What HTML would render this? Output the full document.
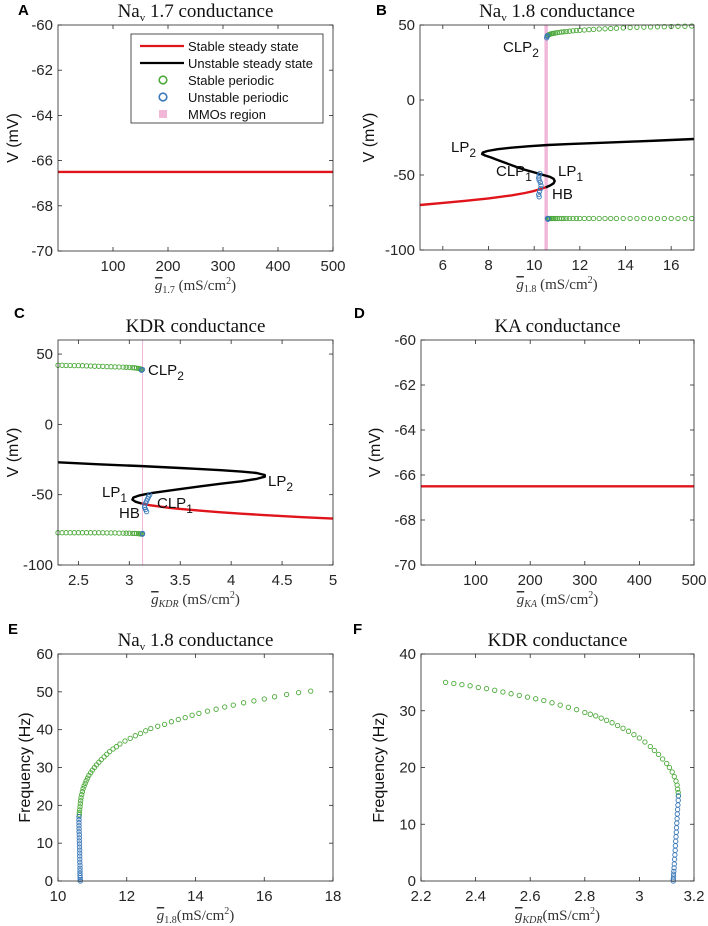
<!DOCTYPE html>
<html><head><meta charset="utf-8"><style>
html,body{margin:0;padding:0;background:#fff}
svg{display:block}
.tk{font-family:"Liberation Sans",sans-serif;font-size:15px;fill:#262626}
.tt{font-family:"Liberation Serif",serif;font-size:19px;fill:#111}
.xl{font-family:"Liberation Serif",serif;font-size:15px;fill:#333}
.yl{font-family:"Liberation Sans",sans-serif;font-size:16px;fill:#111}
.pl{font-family:"Liberation Sans",sans-serif;font-size:15px;font-weight:bold;fill:#000}
.an{font-family:"Liberation Sans",sans-serif;font-size:15px;fill:#111}
.lg{font-family:"Liberation Sans",sans-serif;font-size:13px;fill:#111}
</style></head><body>
<svg id="fig" width="708" height="926" viewBox="0 0 708 926" xmlns="http://www.w3.org/2000/svg"></svg>
<script>
// ---------- data ----------
const aStableG=[0,500]; const aStableV=[-66.5,-66.5];
const dStableG=[0,500]; const dStableV=[-66.5,-66.5];
const bStableG=[5,6,7,8,9,9.6,10,10.3,10.5];
const bStableV=[-70,-68.6,-67.2,-65.6,-63.6,-62,-60.6,-59.3,-58.3];
const bUnstG=[10.5,10.7,10.85,10.9,10.85,10.7,10.4,10,9.6,9.2,8.8,8.4,8.1,7.85,7.72,7.75,7.95,8.4,9,9.8,10.6,11.5,12.5,13.5,14.5,15.5,17];
const bUnstV=[-58.3,-57,-55.5,-54,-52.5,-51.3,-50,-48.3,-46.5,-44.5,-42.3,-40,-38.3,-37,-36,-35,-34,-32.8,-31.8,-30.8,-30,-29.4,-28.8,-28.2,-27.6,-27,-26];
const bGreenG=[10.6,10.63,10.66,10.7,10.75,10.8,10.86,10.93,11,11.1,11.2,11.3,11.42,11.55,11.7,11.85,12,12.2,12.4,12.6,12.85,13.1,13.35,13.6,13.9,14.2,14.5,14.8,15.1,15.4,15.7,16,16.3,16.6,16.9];
const bGreenUpV=[43,43.4,43.7,43.9,44.1,44.3,44.5,44.7,44.9,45.1,45.3,45.5,45.7,45.9,46.1,46.3,46.5,46.7,46.9,47.1,47.3,47.5,47.7,47.9,48.1,48.3,48.5,48.6,48.7,48.8,48.9,49,49.1,49.2,49.3];
const bGreenLoV=[-79,-79,-79,-79,-79,-79,-79,-79,-79,-79,-79,-79,-79,-79,-79,-79,-79,-79,-79,-79,-79,-79,-79,-79,-79,-79,-79,-79,-79,-79,-79,-79,-79,-79,-79];
const bBlueG=[10.55,10.56,10.58,10.6,10.25,10.22,10.2,10.22,10.27,10.3,10.28,10.24,10.2,10.22,10.6,10.58];
const bBlueV=[41.5,42.5,43,-79,-49,-50.5,-52,-53.5,-55,-57,-59,-61,-63,-64.5,-79.5,-79];
const bMmo=[10.45,10.6];

const cStableG=[3.12,3.2,3.3,3.4,3.5,3.7,3.9,4.1,4.3,4.5,4.7,5];
const cStableV=[-56.3,-57.5,-58.5,-59.4,-60.1,-61.4,-62.5,-63.5,-64.4,-65.2,-66,-67];
const cUnstG=[3.12,3.06,3.03,3.04,3.1,3.2,3.35,3.5,3.7,3.9,4.1,4.25,4.33,4.33,4.25,4.1,3.9,3.7,3.5,3.3,3.1,2.9,2.7,2.5,2.3];
const cUnstV=[-56.3,-55,-53.5,-52,-50.5,-49,-47.5,-46,-44,-42.2,-40.5,-38.8,-37.2,-36,-34.6,-33.6,-32.6,-31.8,-31,-30.3,-29.6,-29,-28.4,-27.7,-27];
const cGreenG=[2.3,2.34,2.38,2.42,2.46,2.5,2.54,2.58,2.62,2.66,2.7,2.74,2.78,2.82,2.86,2.9,2.94,2.97,3,3.03,3.05,3.07,3.09,3.1,3.11,3.12];
const cGreenUpV=[42,42,41.9,41.9,41.8,41.8,41.7,41.6,41.5,41.4,41.3,41.2,41.1,41,40.9,40.8,40.7,40.6,40.5,40.3,40.2,40,39.8,39.6,39.4,39.2];
const cGreenLoV=[-77,-77,-77,-77,-77,-77,-77,-77,-77,-77.1,-77.1,-77.1,-77.2,-77.2,-77.2,-77.3,-77.3,-77.4,-77.4,-77.5,-77.5,-77.6,-77.7,-77.8,-77.9,-78];
const cBlueG=[3.12,3.13,3.13,3.13,3.2,3.19,3.18,3.17,3.16,3.15,3.15,3.16,3.17];
const cBlueV=[38.5,39,-78,-77.5,-50,-51.5,-53,-54.5,-56,-57.5,-59,-60.5,-62];
const cMmo=[3.13];

const eGreenG=[17.35,17,16.65,16.3,16,15.7,15.4,15.1,14.85,14.6,14.35,14.1,13.9,13.7,13.5,13.3,13.1,12.9,12.7,12.55,12.4,12.25,12.1,11.95,11.8,11.7,11.6,11.5,11.42,11.34,11.26,11.19,11.12,11.06,11,10.95,10.9,10.86,10.82,10.79,10.76,10.73,10.71,10.69,10.67,10.66,10.65,10.64,10.63,10.62,10.62];
const eGreenF=[50.2,49.8,49.3,48.7,48.1,47.6,47.1,46.5,46,45.4,44.9,44.3,43.8,43.2,42.7,42.1,41.4,40.9,40.3,39.7,39,38.4,37.7,37,36.2,35.5,34.9,34.2,33.5,32.8,32.1,31.4,30.7,30,29.3,28.6,27.9,27.2,26.5,25.8,25.1,24.4,23.6,22.8,22,21.2,20.4,19.6,18.8,18.1,17.5];
const eBlueG=[10.61,10.61,10.61,10.61,10.615,10.615,10.62,10.62,10.62,10.625,10.625,10.63,10.63,10.63,10.635,10.635,10.64,10.64,10.64,10.64,10.64,10.645,10.645,10.65];
const eBlueF=[17,16.2,15.4,14.6,13.8,13,12.2,11.4,10.6,9.8,9,8.2,7.4,6.6,5.8,5,4.2,3.4,2.7,2,1.4,0.9,0.4,0];

const fGreenG=[2.29,2.32,2.35,2.38,2.41,2.44,2.47,2.5,2.53,2.56,2.59,2.62,2.65,2.68,2.71,2.74,2.77,2.8,2.82,2.84,2.86,2.88,2.9,2.92,2.94,2.96,2.98,3,3.02,3.04,3.055,3.07,3.085,3.1,3.11,3.12,3.128,3.134,3.138,3.14,3.142,3.143];
const fGreenF=[35,34.8,34.6,34.4,34.1,33.9,33.6,33.3,33,32.7,32.4,32.1,31.8,31.4,31,30.6,30.2,29.7,29.4,29.1,28.7,28.3,27.9,27.4,26.9,26.4,25.8,25.2,24.5,23.7,23,22.3,21.5,20.7,20,19.2,18.4,17.6,16.9,16.2,15.6,15];
const fBlueG=[3.143,3.142,3.141,3.14,3.139,3.138,3.137,3.136,3.135,3.134,3.133,3.132,3.131,3.13,3.129,3.128,3.127,3.126,3.125,3.125,3.124,3.124];
const fBlueF=[15,14.2,13.4,12.6,11.8,11,10.2,9.4,8.6,7.8,7,6.2,5.4,4.6,3.8,3,2.3,1.7,1.2,0.7,0.3,0];

const vTicksA=[-70,-68,-66,-64,-62,-60];
const gTicksA=[100,200,300,400,500];
const vTicksB=[-100,-50,0,50];
const gTicksB=[6,8,10,12,14,16];
const gTicksC=[2.5,3,3.5,4,4.5,5];
const fTicksE=[0,10,20,30,40,50,60];
const gTicksE=[10,12,14,16,18];
const fTicksF=[0,10,20,30,40];
const gTicksF=[2.2,2.4,2.6,2.8,3,3.2];
const gTicksFLabels=['2.2','2.4','2.6','2.8','3','3.2'];

// ---------- helpers ----------
const NS='http://www.w3.org/2000/svg';
const svg=document.getElementById('fig');
function mk(tag,attrs,parent,text){const e=document.createElementNS(NS,tag);for(const k in attrs)e.setAttribute(k,attrs[k]);if(text!==undefined)e.textContent=text;(parent||svg).appendChild(e);return e;}
const RED='#e0141b',BLK='#000',GRN='#4eaa3c',BLU='#3a78b8',PNK='#f1b6d8';

function panel(p){
  const g=mk('g',{});
  
  
  const sx=v=>p.x0+(v-p.xmin)/(p.xmax-p.xmin)*(p.x1-p.x0);
  const sy=v=>p.y1-(v-p.ymin)/(p.ymax-p.ymin)*(p.y1-p.y0);
  mk('rect',{x:p.x0,y:p.y0,width:p.x1-p.x0,height:p.y1-p.y0,fill:'#fff'},g);
  const plot=mk('g',{},g);
  
  
  const axes=mk('g',{},g);
  
  
  p.yt.forEach((v,i)=>{const y=sy(v);
    mk('line',{x1:p.x0,x2:p.x0+4,y1:y,y2:y,stroke:'#262626','stroke-width':0.8},axes);
    mk('line',{x1:p.x1,x2:p.x1-4,y1:y,y2:y,stroke:'#262626','stroke-width':0.8},axes);
    const t=mk('text',{x:p.x0-5,y:y+5,'text-anchor':'end',class:'tk'},axes,p.ytl?p.ytl[i]:String(v));
    });
  p.xt.forEach((v,i)=>{const x=sx(v);
    mk('line',{x1:x,x2:x,y1:p.y1,y2:p.y1-4,stroke:'#262626','stroke-width':0.8},axes);
    mk('line',{x1:x,x2:x,y1:p.y0,y2:p.y0+4,stroke:'#262626','stroke-width':0.8},axes);
    const t=mk('text',{x:x,y:p.y1+20,'text-anchor':'middle',class:'tk'},axes,p.xtl?p.xtl[i]:String(v));
    });
  mk('rect',{x:p.x0,y:p.y0,width:p.x1-p.x0,height:p.y1-p.y0,fill:'none',stroke:'#262626','stroke-width':0.8},axes);
  const tt=mk('text',{x:(p.x0+p.x1)/2,y:p.y0-8,'text-anchor':'middle',class:'tt'},g);
  
  tt.innerHTML=p.title;
  const yl=mk('text',{x:0,y:0,'text-anchor':'middle',class:'yl',transform:`translate(${p.ylx},${(p.y0+p.y1)/2}) rotate(-90)`},g,p.ylab);
  
  const xl=mk('text',{x:(p.x0+p.x1)/2,y:p.y1+39,'text-anchor':'middle',class:'xl'},g);
  
  xl.innerHTML=`<tspan font-style="italic" text-decoration="overline">g</tspan><tspan font-size="10" dy="3" font-style="${p.subIt?'italic':'normal'}">${p.sub}</tspan><tspan dy="-3">${p.gap?' ':''}(mS/cm</tspan><tspan font-size="10" dy="-6">2</tspan><tspan dy="6">)</tspan>`;
  const pl=mk('text',{x:p.x0-46+p.plx,y:p.ply,class:'pl'},g,p.letter);
  
  return {sx,sy,plot};
}
function line(P,gs,vs,col,name){const d=gs.map((v,i)=>(i?'L':'M')+P.sx(v).toFixed(1)+','+P.sy(vs[i]).toFixed(1)).join('');
  const e=mk('path',{d:d,fill:'none',stroke:col,'stroke-width':2.4,'stroke-linejoin':'round'},P.plot);
  }
function dots(P,gs,vs,col,name){const grp=mk('g',{},P.plot);
  
  gs.forEach((v,i)=>{const c=mk('circle',{cx:P.sx(v).toFixed(1),cy:P.sy(vs[i]).toFixed(1),r:2.2,fill:'none',stroke:col,'stroke-width':0.9},grp);
    });}
function ann(P,x,y,main,sub,name){const t=mk('text',{x:x,y:y,class:'an'},P.plot);
  
  t.innerHTML=main+(sub?`<tspan font-size="12" dy="5">${sub}</tspan>`:'');}

const vlab='V (mV)';
// A
const A=panel({name:'panel-a',letter:'A',plx:6,ply:15,x0:58,x1:333,y0:25,y1:251,xmin:0,xmax:500,ymin:-70,ymax:-60,xt:gTicksA,yt:vTicksA,ylx:18,ylab:vlab,
  title:'Na<tspan font-size="11" dy="4">v</tspan><tspan dy="-4"> 1.7 conductance</tspan>',sub:'1.7',gap:true});
line(A,aStableG,aStableV,RED,'stable-steady-state');
// legend
const lg=mk('g',{});
mk('rect',{x:131,y:34,width:192,height:89,fill:'#fff',stroke:'#262626','stroke-width':0.8},lg);
const items=[['Stable steady state','line',RED],['Unstable steady state','line',BLK],['Stable periodic','circ',GRN],['Unstable periodic','circ',BLU],['MMOs region','sq',PNK]];
items.forEach((it,i)=>{const y=46+i*17;const e=mk('g',{},lg);
  
  if(it[1]=='line')mk('line',{x1:140,x2:184,y1:y,y2:y,stroke:it[2],'stroke-width':2.2},e);
  if(it[1]=='circ')mk('circle',{cx:163,cy:y,r:3.8,fill:'none',stroke:it[2],'stroke-width':1.6},e);
  if(it[1]=='sq')mk('rect',{x:159,y:y-4,width:8,height:8,fill:it[2]},e);
  mk('text',{x:188,y:y+5,class:'lg'},e,it[0]);});
// B
const B=panel({name:'panel-b',letter:'B',plx:2,ply:15,x0:420,x1:694,y0:25,y1:250,xmin:5,xmax:17,ymin:-100,ymax:50,xt:gTicksB,yt:vTicksB,ylx:374,ylab:vlab,
  title:'Na<tspan font-size="11" dy="4">v</tspan><tspan dy="-4"> 1.8 conductance</tspan>',sub:'1.8',gap:true});
{const r=mk('rect',{x:B.sx(bMmo[0]),y:25,width:B.sx(bMmo[1])-B.sx(bMmo[0]),height:225,fill:PNK},B.plot);}
line(B,bStableG,bStableV,RED,'stable-steady-state');
line(B,bUnstG,bUnstV,BLK,'unstable-steady-state');
dots(B,bGreenG,bGreenUpV,GRN,'stable-periodic-max');
dots(B,bGreenG,bGreenLoV,GRN,'stable-periodic-min');
dots(B,bBlueG,bBlueV,BLU,'unstable-periodic');
ann(B,503,52,'CLP','2','label-clp2');ann(B,451,152,'LP','2','label-lp2');ann(B,496,176,'CLP','1','label-clp1');
ann(B,558,176,'LP','1','label-lp1');ann(B,552,199,'HB','','label-hb');
// C
const C=panel({name:'panel-c',letter:'C',plx:2,ply:318,x0:58,x1:333,y0:340,y1:565,xmin:2.3,xmax:5,ymin:-100,ymax:60,xt:gTicksC,yt:vTicksB,ylx:18,ylab:vlab,
  title:'KDR conductance',sub:'KDR',subIt:true,gap:true});
{const r=mk('line',{x1:C.sx(cMmo[0]),x2:C.sx(cMmo[0]),y1:340,y2:565,stroke:PNK,'stroke-width':1},C.plot);}
line(C,cStableG,cStableV,RED,'stable-steady-state');
line(C,cUnstG,cUnstV,BLK,'unstable-steady-state');
dots(C,cGreenG,cGreenUpV,GRN,'stable-periodic-max');
dots(C,cGreenG,cGreenLoV,GRN,'stable-periodic-min');
dots(C,cBlueG,cBlueV,BLU,'unstable-periodic');
ann(C,148,375,'CLP','2','label-clp2');ann(C,268,486,'LP','2','label-lp2');ann(C,102,497,'LP','1','label-lp1');
ann(C,157,508,'CLP','1','label-clp1');ann(C,119,518,'HB','','label-hb');
// D
const D=panel({name:'panel-d',letter:'D',plx:-21,ply:318,x0:421,x1:694,y0:340,y1:565,xmin:0,xmax:500,ymin:-70,ymax:-60,xt:gTicksA,yt:vTicksA,ylx:380,ylab:vlab,
  title:'KA conductance',sub:'KA',subIt:true,gap:true});
line(D,dStableG,dStableV,RED,'stable-steady-state');
// E
const E=panel({name:'panel-e',letter:'E',plx:-4,ply:634,x0:58,x1:333,y0:654,y1:881,xmin:10,xmax:18,ymin:0,ymax:60,xt:gTicksE,yt:fTicksE,ylx:30,ylab:'Frequency (Hz)',
  title:'Na<tspan font-size="11" dy="4">v</tspan><tspan dy="-4"> 1.8 conductance</tspan>',sub:'1.8',gap:false});
dots(E,eGreenG,eGreenF,GRN,'stable-periodic-frequency');
dots(E,eBlueG,eBlueF,BLU,'unstable-periodic-frequency');
// F
const F=panel({name:'panel-f',letter:'F',plx:-22,ply:634,x0:421,x1:694,y0:654,y1:881,xmin:2.2,xmax:3.2,ymin:0,ymax:40,xt:gTicksF,xtl:gTicksFLabels,yt:fTicksF,ylx:384,ylab:'Frequency (Hz)',
  title:'KDR conductance',sub:'KDR',subIt:true,gap:false});
dots(F,fGreenG,fGreenF,GRN,'stable-periodic-frequency');
dots(F,fBlueG,fBlueF,BLU,'unstable-periodic-frequency');
</script>
</body></html>
